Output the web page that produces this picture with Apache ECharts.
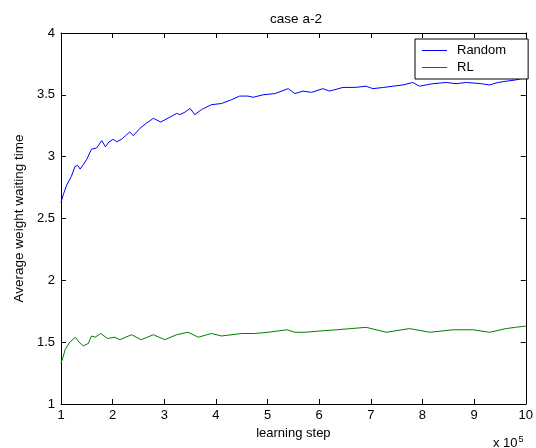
<!DOCTYPE html>
<html>
<head>
    <meta charset="utf-8">
    <title>case a-2</title>
    <script src="https://cdn.jsdelivr.net/npm/echarts@6/dist/echarts.min.js"></script>
    <style>
        html, body { margin: 0; padding: 0; background: #ffffff; }
        #chart { width: 536px; height: 448px; }
    </style>
</head>
<body>
<div id="chart"></div>
<script>
    // learning step (x 10^5) and average weight waiting time
    var randomSteps = [1.0, 1.05, 1.11, 1.2, 1.27, 1.32, 1.37, 1.44, 1.50, 1.59,
        1.69, 1.79, 1.86, 1.93, 2.01, 2.08, 2.17, 2.25, 2.33, 2.40,
        2.53, 2.65, 2.79, 2.93, 3.11, 3.24, 3.30, 3.40, 3.50, 3.59,
        3.72, 3.91, 4.11, 4.30, 4.46, 4.62, 4.72, 4.91, 5.14, 5.40,
        5.53, 5.69, 5.85, 6.07, 6.20, 6.46, 6.70, 6.91, 7.04, 7.25,
        7.43, 7.62, 7.81, 7.94, 8.20, 8.46, 8.65, 8.85, 9.14, 9.30,
        9.46, 9.62, 9.80, 10.0];
    var randomValues = [2.63, 2.70, 2.77, 2.84, 2.92, 2.93, 2.90, 2.94, 2.98, 3.06,
        3.07, 3.13, 3.08, 3.12, 3.14, 3.12, 3.14, 3.17, 3.20, 3.17,
        3.23, 3.27, 3.31, 3.28, 3.32, 3.35, 3.34, 3.36, 3.39, 3.34,
        3.38, 3.42, 3.43, 3.46, 3.49, 3.49, 3.48, 3.50, 3.51, 3.55,
        3.51, 3.53, 3.52, 3.55, 3.53, 3.56, 3.56, 3.57, 3.55, 3.56,
        3.57, 3.58, 3.60, 3.57, 3.59, 3.60, 3.59, 3.60, 3.59, 3.58,
        3.60, 3.61, 3.62, 3.64];

    var rlSteps = [1.0, 1.04, 1.08, 1.17, 1.28, 1.35, 1.43, 1.53, 1.59, 1.66,
        1.77, 1.90, 2.04, 2.14, 2.25, 2.37, 2.55, 2.79, 3.01, 3.24,
        3.46, 3.66, 3.91, 4.11, 4.50, 4.75, 5.01, 5.37, 5.53, 5.72,
        6.01, 6.33, 6.62, 6.91, 7.30, 7.75, 8.14, 8.59, 8.98, 9.30,
        9.62, 9.80, 10.0];
    var rlValues = [1.33, 1.38, 1.44, 1.50, 1.54, 1.50, 1.47, 1.49, 1.55, 1.54,
        1.57, 1.53, 1.54, 1.52, 1.54, 1.56, 1.52, 1.56, 1.52, 1.56,
        1.58, 1.54, 1.57, 1.55, 1.57, 1.57, 1.58, 1.60, 1.58, 1.58,
        1.59, 1.60, 1.61, 1.62, 1.58, 1.61, 1.58, 1.60, 1.60, 1.58,
        1.61, 1.62, 1.63];

    function pairs(xs, ys) {
        var out = [];
        for (var i = 0; i < xs.length; i++) {
            out.push([xs[i], ys[i]]);
        }
        return out;
    }

    var font = '"Liberation Sans", Arial, sans-serif';
    var black = '#000000';

    var chart = echarts.init(document.getElementById('chart'), null, {renderer: 'canvas'});

    var option = {
        animation: false,
        backgroundColor: '#ffffff',
        textStyle: {fontFamily: font, color: black},
        title: {
            text: 'case a-2',
            left: 291,
            textAlign: 'center',
            top: 7,
            textStyle: {fontFamily: font, fontSize: 13.5, fontWeight: 'normal', color: black}
        },
        legend: {
            data: [
                {name: 'Random', itemStyle: {color: '#0000ff', borderWidth: 0}},
                {name: 'RL', itemStyle: {color: '#008000', borderWidth: 0}}
            ],
            orient: 'vertical',
            left: 415,
            top: 39,
            padding: [5, 22, 5, 7],
            itemGap: 4,
            itemWidth: 25,
            itemHeight: 1,
            icon: 'rect',
            itemStyle: {borderWidth: 0},
            borderColor: black,
            borderWidth: 1,
            backgroundColor: '#ffffff',
            textStyle: {fontFamily: font, fontSize: 13, color: black, padding: [0, 0, 0, 5]}
        },
        grid: {left: 61, right: 10, top: 33, bottom: 44, containLabel: false},
        xAxis: [
            {
                type: 'value',
                min: 1,
                max: 10,
                interval: 1,
                name: 'learning step',
                nameLocation: 'middle',
                nameGap: 22,
                nameTextStyle: {fontFamily: font, fontSize: 13, color: black},
                axisLine: {lineStyle: {color: black, width: 1}},
                axisTick: {inside: true, length: 5, lineStyle: {color: black}},
                axisLabel: {fontFamily: font, fontSize: 13, color: black, margin: 5},
                splitLine: {show: false}
            },
            {
                type: 'value',
                position: 'top',
                min: 1,
                max: 10,
                interval: 1,
                axisLine: {lineStyle: {color: black, width: 1}},
                axisTick: {inside: true, length: 5, lineStyle: {color: black}},
                axisLabel: {show: false},
                splitLine: {show: false}
            }
        ],
        yAxis: [
            {
                type: 'value',
                min: 1,
                max: 4,
                interval: 0.5,
                name: 'Average weight waiting time',
                nameLocation: 'middle',
                nameGap: 30,
                nameTextStyle: {fontFamily: font, fontSize: 13.5, color: black},
                axisLine: {show: true, lineStyle: {color: black, width: 1}},
                axisTick: {show: true, inside: true, length: 5, lineStyle: {color: black}},
                axisLabel: {fontFamily: font, fontSize: 13, color: black, margin: 6},
                splitLine: {show: false}
            },
            {
                type: 'value',
                position: 'right',
                min: 1,
                max: 4,
                interval: 0.5,
                axisLine: {show: true, lineStyle: {color: black, width: 1}},
                axisTick: {show: true, inside: true, length: 5, lineStyle: {color: black}},
                axisLabel: {show: false},
                splitLine: {show: false}
            }
        ],
        graphic: [
            {
                type: 'text',
                left: 493,
                top: 435,
                style: {
                    text: 'x 10{sup|5}',
                    fill: black,
                    font: '13px ' + font,
                    rich: {
                        sup: {fontSize: 9, verticalAlign: 'top', padding: [0, 0, 8, 1], fontFamily: font, fill: black}
                    }
                }
            }
        ],
        series: [
            {
                name: 'Random',
                type: 'line',
                showSymbol: false,
                symbol: 'none',
                color: '#0000ff',
                lineStyle: {color: '#0000ff', width: 1},
                data: pairs(randomSteps, randomValues)
            },
            {
                name: 'RL',
                type: 'line',
                showSymbol: false,
                symbol: 'none',
                color: '#008000',
                lineStyle: {color: '#008000', width: 1},
                data: pairs(rlSteps, rlValues)
            }
        ]
    };
    chart.setOption(option);
</script>
</body>
</html>
